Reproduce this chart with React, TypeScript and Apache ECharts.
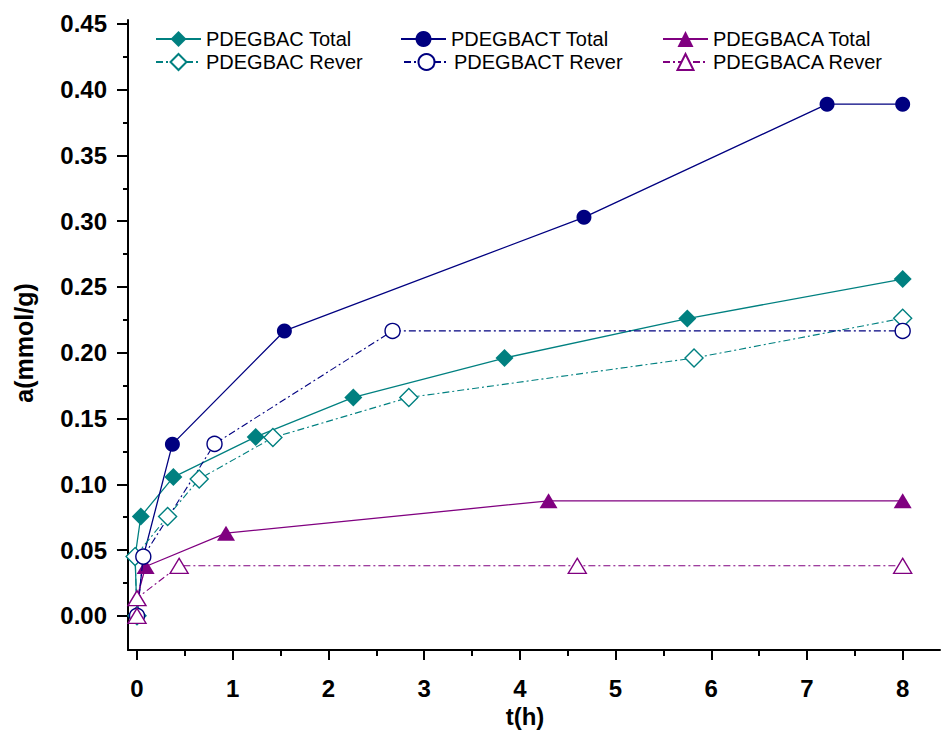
import React, { useEffect, useRef } from "react";
import * as echarts from "echarts";

// Axis ticks and labels
const timeTicks = [0, 1, 2, 3, 4, 5, 6, 7, 8];
const timeMinorTicks = [0.5, 1.5, 2.5, 3.5, 4.5, 5.5, 6.5, 7.5];
const uptakeTicks = [0, 0.05, 0.1, 0.15, 0.2, 0.25, 0.3, 0.35, 0.4, 0.45];
const uptakeMinorTicks = [0.025, 0.075, 0.125, 0.175, 0.225, 0.275, 0.325, 0.375, 0.425];

// PDEGBAC (teal diamonds)
const pdegbacTotalT = [0, -0.02, 0.04, 0.38, 1.24, 2.26, 3.84, 5.75, 8];
const pdegbacTotalA = [0, 0.045, 0.0755, 0.1055, 0.136, 0.166, 0.196, 0.226, 0.256];
const pdegbacReverT = [0, -0.02, 0.32, 0.65, 1.42, 2.84, 5.82, 8];
const pdegbacReverA = [0, 0.045, 0.0755, 0.104, 0.1355, 0.166, 0.196, 0.2262];

// PDEGBACT (navy circles)
const pdegbactTotalT = [0, 0.066, 0.37, 1.54, 4.67, 7.21, 8];
const pdegbactTotalA = [0, 0.045, 0.1305, 0.2166, 0.303, 0.389, 0.389];
const pdegbactReverT = [0, 0.066, 0.81, 2.67, 8];
const pdegbactReverA = [0, 0.045, 0.1307, 0.2166, 0.2166];

// PDEGBACA (purple triangles)
const pdegbacaTotalT = [0, 0, 0.09, 0.93, 4.3, 8];
const pdegbacaTotalA = [0, 0.0134, 0.0375, 0.0628, 0.0874, 0.0874];
const pdegbacaReverT = [0, 0, 0.44, 4.6, 8];
const pdegbacaReverA = [0, 0.0134, 0.038, 0.038, 0.038];

const TEAL = "#008080";
const NAVY = "#000080";
const PURPLE = "#800080";
const FONT = "Arial, 'Liberation Sans', sans-serif";
const DASH_DOT = [7, 3, 2, 3];

const X_MIN = -0.094;
const X_MAX = 8.39;
const Y_MIN = -0.026;
const Y_MAX = 0.453;

const zip = (t: number[], a: number[]) => t.map((v, i) => [v, a[i]]);

function totalSeries(name: string, t: number[], a: number[], color: string, symbol: string, size: any) {
  return {
    name,
    type: "line",
    data: zip(t, a),
    symbol,
    symbolSize: size,
    showSymbol: true,
    lineStyle: { color, width: 1.3, type: "solid" },
    itemStyle: { color, borderColor: color, borderWidth: 0 },
    z: 2,
  };
}

function reverSeries(name: string, t: number[], a: number[], color: string, symbol: string, size: any) {
  return {
    name,
    type: "line",
    data: zip(t, a),
    symbol,
    symbolSize: size,
    showSymbol: true,
    lineStyle: { color, width: 1.1, type: DASH_DOT },
    itemStyle: { color: "#ffffff", borderColor: color, borderWidth: 1.4 },
    z: 3,
  };
}

function legendAt(name: string, left: number, top: number) {
  return {
    data: [name],
    left,
    top,
    orient: "horizontal",
    padding: 0,
    itemWidth: 45,
    itemHeight: 20,
    itemGap: 0,
    textStyle: { fontFamily: FONT, fontSize: 20, color: "#000" },
    selectedMode: false,
  };
}

const tickLabelStyle = {
  fontFamily: FONT,
  fontSize: 24,
  fontWeight: "bold",
  color: "#000",
  lineHeight: 20,
};

export default function App() {
  const ref = useRef<HTMLDivElement>(null);

  useEffect(() => {
    if (!ref.current) return;
    const chart = echarts.init(ref.current, undefined, { renderer: "svg" });
    const DIAMOND = 18;
    const CIRCLE = 15;
    const TRI = [18, 15];

    chart.setOption({
      animation: false,
      backgroundColor: "#ffffff",
      grid: { left: 128, right: 6, top: 20, bottom: 82, containLabel: false },
      legend: [
        legendAt("PDEGBAC Total", 155, 29),
        legendAt("PDEGBACT Total", 400, 29),
        legendAt("PDEGBACA Total", 662, 29),
        legendAt("PDEGBAC Rever", 155, 52),
        legendAt("PDEGBACT Rever", 403, 52),
        legendAt("PDEGBACA Rever", 662, 52),
      ],
      graphic: [
        {
          type: "text",
          x: 24,
          y: 343,
          rotation: Math.PI / 2,
          style: {
            text: "a(mmol/g)",
            fontFamily: FONT,
            fontSize: 25,
            fontWeight: "bold",
            fill: "#000",
            align: "center",
            verticalAlign: "middle",
          },
        },
        {
          type: "text",
          x: 525,
          y: 716,
          style: {
            text: "t(h)",
            fontFamily: FONT,
            fontSize: 24,
            lineHeight: 22,
            fontWeight: "bold",
            fill: "#000",
            align: "center",
            verticalAlign: "middle",
          },
        },
      ],
      xAxis: [
        {
          type: "value",
          min: X_MIN,
          max: X_MAX,
          axisLine: { show: true, onZero: false, lineStyle: { color: "#000", width: 2 } },
          axisTick: {
            show: true,
            inside: false,
            length: 10,
            customValues: timeTicks,
            lineStyle: { color: "#000", width: 2 },
          },
          axisLabel: {
            show: true,
            margin: 28,
            customValues: timeTicks,
            formatter: (v: number) => String(v),
            ...tickLabelStyle,
          },
          splitLine: { show: false },
        },
        {
          type: "value",
          position: "bottom",
          min: X_MIN,
          max: X_MAX,
          axisLine: { show: false, onZero: false },
          axisTick: {
            show: true,
            inside: false,
            length: 6,
            customValues: timeMinorTicks,
            lineStyle: { color: "#000", width: 2 },
          },
          axisLabel: { show: false },
          splitLine: { show: false },
        },
      ],
      yAxis: [
        {
          type: "value",
          min: Y_MIN,
          max: Y_MAX,
          axisLine: { show: true, onZero: false, lineStyle: { color: "#000", width: 2 } },
          axisTick: {
            show: true,
            inside: false,
            length: 11,
            customValues: uptakeTicks,
            lineStyle: { color: "#000", width: 2 },
          },
          axisLabel: {
            show: true,
            margin: 21,
            customValues: uptakeTicks,
            formatter: (v: number) => v.toFixed(2),
            ...tickLabelStyle,
          },
          splitLine: { show: false },
        },
        {
          type: "value",
          position: "left",
          min: Y_MIN,
          max: Y_MAX,
          axisLine: { show: false, onZero: false },
          axisTick: {
            show: true,
            inside: false,
            length: 5,
            customValues: uptakeMinorTicks,
            lineStyle: { color: "#000", width: 2 },
          },
          axisLabel: { show: false },
          splitLine: { show: false },
        },
      ],
      series: [
        totalSeries("PDEGBAC Total", pdegbacTotalT, pdegbacTotalA, TEAL, "diamond", DIAMOND),
        totalSeries("PDEGBACT Total", pdegbactTotalT, pdegbactTotalA, NAVY, "circle", CIRCLE),
        totalSeries("PDEGBACA Total", pdegbacaTotalT, pdegbacaTotalA, PURPLE, "triangle", TRI),
        reverSeries("PDEGBAC Rever", pdegbacReverT, pdegbacReverA, TEAL, "diamond", DIAMOND),
        reverSeries("PDEGBACT Rever", pdegbactReverT, pdegbactReverA, NAVY, "circle", CIRCLE),
        reverSeries("PDEGBACA Rever", pdegbacaReverT, pdegbacaReverA, PURPLE, "triangle", TRI),
      ],
    });

    return () => chart.dispose();
  }, []);

  return (
    <div
      ref={ref}
      style={{ position: "fixed", left: 0, top: 0, width: 946, height: 732, background: "#fff" }}
    />
  );
}
